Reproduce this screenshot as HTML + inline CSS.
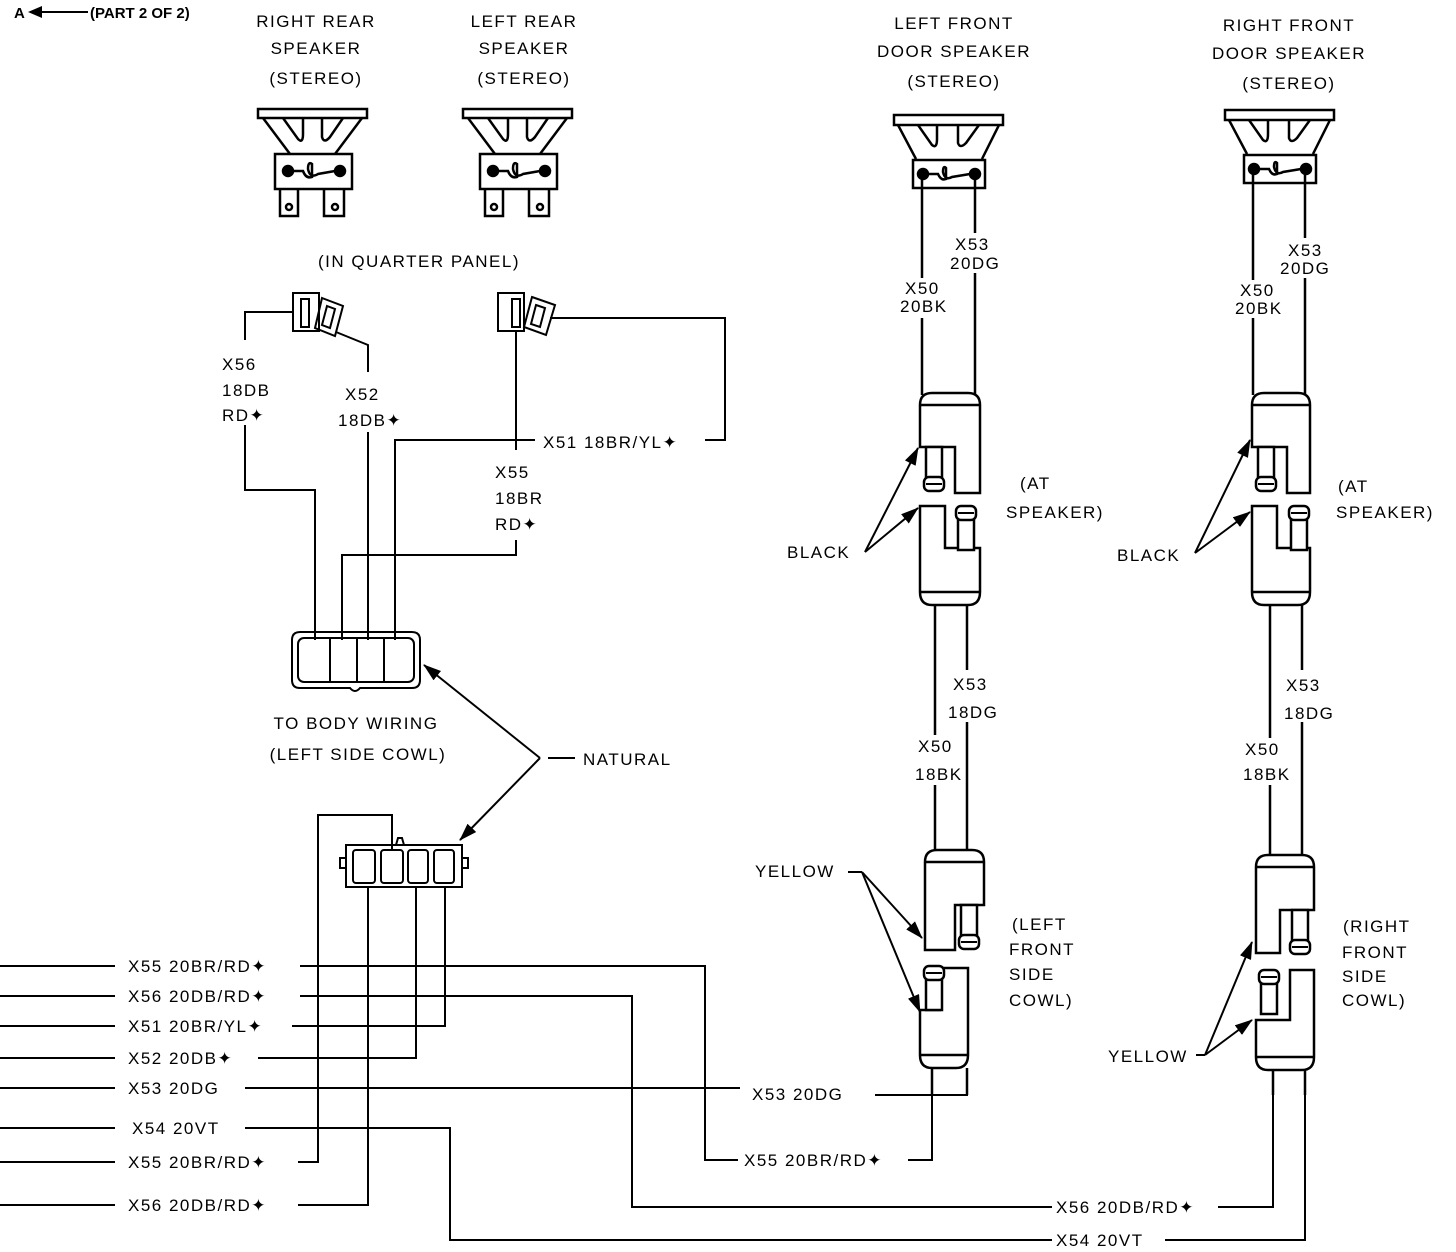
<!DOCTYPE html>
<html><head><meta charset="utf-8"><style>
body{margin:0;background:#fff}
svg{display:block}
text{font-family:"Liberation Sans",sans-serif;font-size:17px;fill:#000;letter-spacing:1.5px}
</style></head><body>
<svg width="1456" height="1252" viewBox="0 0 1456 1252" xmlns="http://www.w3.org/2000/svg">
<defs>
<marker id="ab" markerWidth="18" markerHeight="12" refX="17" refY="6" orient="auto" markerUnits="userSpaceOnUse" viewBox="0 0 18 12"><path d="M0,0 L18,6 L0,12 Z" fill="#000"/></marker>
<g id="rsp" fill="none" stroke="#000" stroke-width="2.5">
<rect x="0" y="0" width="109" height="9" fill="#fff"/>
<path d="M5,9 L32,45 M104,9 L77,45 M25,9 L40,30 Q45,35 45,25 L45,9 M64,9 L64,28 Q66,35 72,28 L85,9"/>
<rect x="17" y="45" width="77" height="35"/>
<circle cx="30" cy="62" r="5" fill="#000"/><circle cx="82" cy="62" r="5" fill="#000"/>
<path d="M35,62 L45,62 Q48,70 54,68 L54,55 Q50,52 50,60 Q52,70 60,65 L77,62"/>
<path d="M22,80 L22,107 L40,107 L40,80 M66,80 L66,107 L86,107 L86,80"/>
<circle cx="31" cy="98" r="3"/><circle cx="77" cy="98" r="3"/>
</g>
<g id="fsp" fill="none" stroke="#000" stroke-width="2.5">
<rect x="0" y="0" width="109" height="10" fill="#fff"/>
<path d="M4,10 L22,44 M105,10 L88,44 M24,10 L38,30 Q43,34 43,24 L43,10 M64,10 L64,28 Q66,34 72,28 L85,10"/>
<rect x="19" y="45" width="72" height="28"/>
<circle cx="29" cy="59" r="5" fill="#000"/><circle cx="81" cy="59" r="5" fill="#000"/>
<path d="M34,59 L44,59 Q47,66 52,64 L52,53 Q49,50 49,57 Q51,66 58,62 L76,59"/>
</g>
<g id="pinD"><rect x="0" y="0" width="16" height="32" fill="#fff" stroke="#000" stroke-width="2.5"/><rect x="-2" y="30" width="20" height="14" rx="5" fill="#fff" stroke="#000" stroke-width="2.5"/><line x1="0" y1="37" x2="16" y2="37" stroke="#000" stroke-width="2"/></g>
<g id="pinU"><rect x="0" y="12" width="16" height="32" fill="#fff" stroke="#000" stroke-width="2.5"/><rect x="-2" y="0" width="20" height="14" rx="5" fill="#fff" stroke="#000" stroke-width="2.5"/><line x1="0" y1="7" x2="16" y2="7" stroke="#000" stroke-width="2"/></g>
</defs>

<!-- top text -->
<text x="14" y="18" style="font-weight:bold;font-size:15px;letter-spacing:0">A</text>
<line x1="36" y1="12" x2="88" y2="12" stroke="#000" stroke-width="2"/>
<path d="M28,12 L42,6 L42,18 Z"/>
<text x="90" y="18" style="font-weight:bold;font-size:15px;letter-spacing:0">(PART 2 OF 2)</text>
<g text-anchor="middle">
<text x="316" y="27">RIGHT REAR</text><text x="316" y="54">SPEAKER</text><text x="316" y="84">(STEREO)</text>
<text x="524" y="27">LEFT REAR</text><text x="524" y="54">SPEAKER</text><text x="524" y="84">(STEREO)</text>
<text x="954" y="29">LEFT FRONT</text><text x="954" y="57">DOOR SPEAKER</text><text x="954" y="87">(STEREO)</text>
<text x="1289" y="31">RIGHT FRONT</text><text x="1289" y="59">DOOR SPEAKER</text><text x="1289" y="89">(STEREO)</text>
<text x="419" y="267">(IN QUARTER PANEL)</text>
<text x="356" y="729">TO BODY WIRING</text><text x="358" y="760">(LEFT SIDE COWL)</text>
</g>

<use href="#rsp" x="258" y="109"/>
<use href="#rsp" x="463" y="109"/>
<use href="#fsp" x="894" y="115"/>
<use href="#fsp" x="1225" y="110"/>

<g fill="none" stroke="#000" stroke-width="2">
<rect x="293" y="293" width="26" height="38"/><rect x="301" y="299" width="8" height="28"/>
<path d="M322,298 L343,306 L335,336 L315,328 Z M327,306 L335,309 L330,328 L322,325 Z"/>
<rect x="498" y="293" width="26" height="38"/><rect x="512" y="299" width="8" height="28"/>
<path d="M532,297 L555,305 L546,335 L524,327 Z M536,305 L545,308 L540,327 L531,324 Z"/>
<polyline points="293,312 245,312 245,340"/>
<polyline points="245,425 245,490 315,490 315,640"/>
<polyline points="336,332 368,345 368,372"/>
<polyline points="368,432 368,640"/>
<polyline points="516,331 516,450"/>
<polyline points="516,540 516,555 342,555 342,640"/>
<polyline points="550,318 725,318 725,440 705,440"/>
<polyline points="535,440 395,440 395,640"/>
<path d="M300,632 L412,632 Q420,632 420,640 L420,680 Q420,688 412,688 L360,688 Q355,694 350,688 L300,688 Q292,688 292,680 L292,640 Q292,632 300,632 Z"/>
<rect x="298" y="638" width="116" height="44" rx="6"/>
<path d="M330,638 V682 M357,638 V682 M384,638 V682"/>
<line x1="540" y1="758" x2="424" y2="665" marker-end="url(#ab)"/>
<line x1="540" y1="758" x2="460" y2="840" marker-end="url(#ab)"/>
<line x1="548" y1="758" x2="575" y2="758"/>
<rect x="346" y="845" width="116" height="42"/>
<rect x="340" y="858" width="6" height="10"/><rect x="462" y="858" width="6" height="10"/>
<rect x="353" y="850" width="22" height="33" rx="3"/><rect x="381" y="850" width="22" height="33" rx="3"/>
<rect x="408" y="850" width="20" height="33" rx="3"/><rect x="434" y="850" width="20" height="33" rx="3"/>
<path d="M396,845 L398,838 L402,838 L404,845"/>
<polyline points="392,850 392,815 318,815 318,1162 298,1162"/>
<polyline points="368,887 368,1205 298,1205"/>
<polyline points="416,887 416,1058 258,1058"/>
<polyline points="445,887 445,1026 292,1026"/>
<path d="M0,966 H115 M0,996 H115 M0,1026 H115 M0,1058 H115 M0,1088 H115 M0,1128 H115 M0,1162 H115 M0,1205 H115"/>
<polyline points="300,966 705,966 705,1160 738,1160"/>
<polyline points="908,1160 932,1160 932,1068"/>
<polyline points="300,996 632,996 632,1207 1052,1207"/>
<polyline points="1218,1207 1273,1207 1273,1070"/>
<polyline points="245,1088 740,1088"/>
<polyline points="875,1095 967,1095 967,1068"/>
<polyline points="245,1128 450,1128 450,1240 1052,1240"/>
<polyline points="1165,1240 1305,1240 1305,1070"/>
</g>

<g fill="none" stroke="#000" stroke-width="2.5">
<path d="M922,174 V278 M922,318 V395 M975,174 V233 M975,273 V395"/>
<path d="M935,605 V735 M935,785 V852 M967,605 V670 M967,722 V852"/>
<path d="M932,1068 V1095 M967,1068 V1095"/>
<path d="M920,447 V405 Q920,393 932,393 H968 Q980,393 980,405 V493 H955 V447 Z" fill="#fff"/>
<path d="M920,506 H945 V548 H980 V592 Q980,605 968,605 H932 Q920,605 920,592 Z" fill="#fff"/>
<path d="M920,592 H980"/>
<path d="M920,405 H980"/>
<path d="M925,950 V862 Q925,850 937,850 H972 Q984,850 984,862 V905 H955 V950 Z" fill="#fff"/>
<path d="M925,862 H984"/>
<path d="M920,1010 H940 V968 H968 V1055 Q968,1068 956,1068 H932 Q920,1068 920,1055 Z" fill="#fff"/>
<path d="M920,1055 H968"/>
<path d="M1253,169 V280 M1253,318 V395 M1305,169 V238 M1305,278 V395"/>
<path d="M1270,605 V738 M1270,785 V855 M1302,605 V670 M1302,722 V855"/>
<path d="M1273,1070 V1095 M1305,1070 V1095"/>
<path d="M1252,447 V405 Q1252,393 1264,393 H1298 Q1310,393 1310,405 V493 H1287 V447 Z" fill="#fff"/>
<path d="M1252,506 H1277 V548 H1310 V592 Q1310,605 1298,605 H1264 Q1252,605 1252,592 Z" fill="#fff"/>
<path d="M1252,592 H1310 M1252,405 H1310"/>
<path d="M1256,953 V867 Q1256,855 1268,855 H1302 Q1314,855 1314,867 V910 H1280 V953 Z" fill="#fff"/>
<path d="M1256,867 H1314"/>
<path d="M1256,1020 H1290 V970 H1314 V1057 Q1314,1070 1302,1070 H1268 Q1256,1070 1256,1057 Z" fill="#fff"/>
<path d="M1256,1057 H1314"/>
</g>
<use href="#pinD" x="926" y="447"/>
<use href="#pinU" x="958" y="506"/>
<use href="#pinD" x="961" y="905"/>
<use href="#pinU" x="926" y="966"/>
<use href="#pinD" x="1258" y="447"/>
<use href="#pinU" x="1291" y="506"/>
<use href="#pinD" x="1292" y="910"/>
<use href="#pinU" x="1261" y="970"/>

<g fill="none" stroke="#000" stroke-width="2">
<line x1="865" y1="552" x2="918" y2="448" marker-end="url(#ab)"/>
<line x1="865" y1="552" x2="918" y2="508" marker-end="url(#ab)"/>
<line x1="1195" y1="553" x2="1250" y2="440" marker-end="url(#ab)"/>
<line x1="1195" y1="553" x2="1250" y2="512" marker-end="url(#ab)"/>
<polyline points="848,872 862,872"/>
<line x1="862" y1="872" x2="922" y2="938" marker-end="url(#ab)"/>
<line x1="862" y1="872" x2="920" y2="1012" marker-end="url(#ab)"/>
<line x1="1196" y1="1055" x2="1205" y2="1055"/>
<line x1="1205" y1="1055" x2="1252" y2="942" marker-end="url(#ab)"/>
<line x1="1205" y1="1055" x2="1252" y2="1020" marker-end="url(#ab)"/>
</g>

<g>
<text x="222" y="370">X56</text><text x="222" y="396">18DB</text><text x="222" y="421">RD✦</text>
<text x="345" y="400">X52</text><text x="338" y="426">18DB✦</text>
<text x="543" y="448">X51 18BR/YL✦</text>
<text x="495" y="478">X55</text><text x="495" y="504">18BR</text><text x="495" y="530">RD✦</text>
<text x="583" y="765">NATURAL</text>
<text x="955" y="250">X53</text><text x="950" y="269">20DG</text>
<text x="905" y="294">X50</text><text x="900" y="312">20BK</text>
<text x="1288" y="256">X53</text><text x="1280" y="274">20DG</text>
<text x="1240" y="296">X50</text><text x="1235" y="314">20BK</text>
<text x="1020" y="489">(AT</text><text x="1006" y="518">SPEAKER)</text>
<text x="1338" y="492">(AT</text><text x="1336" y="518">SPEAKER)</text>
<text x="787" y="558">BLACK</text><text x="1117" y="561">BLACK</text>
<text x="953" y="690">X53</text><text x="948" y="718">18DG</text>
<text x="918" y="752">X50</text><text x="915" y="780">18BK</text>
<text x="1286" y="691">X53</text><text x="1284" y="719">18DG</text>
<text x="1245" y="755">X50</text><text x="1243" y="780">18BK</text>
<text x="755" y="877">YELLOW</text><text x="1108" y="1062">YELLOW</text>
<text x="1012" y="930">(LEFT</text><text x="1009" y="955">FRONT</text><text x="1009" y="980">SIDE</text><text x="1009" y="1006">COWL)</text>
<text x="1343" y="932">(RIGHT</text><text x="1342" y="958">FRONT</text><text x="1342" y="982">SIDE</text><text x="1342" y="1006">COWL)</text>
<text x="128" y="972">X55 20BR/RD✦</text>
<text x="128" y="1002">X56 20DB/RD✦</text>
<text x="128" y="1032">X51 20BR/YL✦</text>
<text x="128" y="1064">X52 20DB✦</text>
<text x="128" y="1094">X53 20DG</text>
<text x="132" y="1134">X54 20VT</text>
<text x="128" y="1168">X55 20BR/RD✦</text>
<text x="128" y="1211">X56 20DB/RD✦</text>
<text x="752" y="1100">X53 20DG</text>
<text x="744" y="1166">X55 20BR/RD✦</text>
<text x="1056" y="1213">X56 20DB/RD✦</text>
<text x="1056" y="1246">X54 20VT</text>
</g>
</svg>
</body></html>
